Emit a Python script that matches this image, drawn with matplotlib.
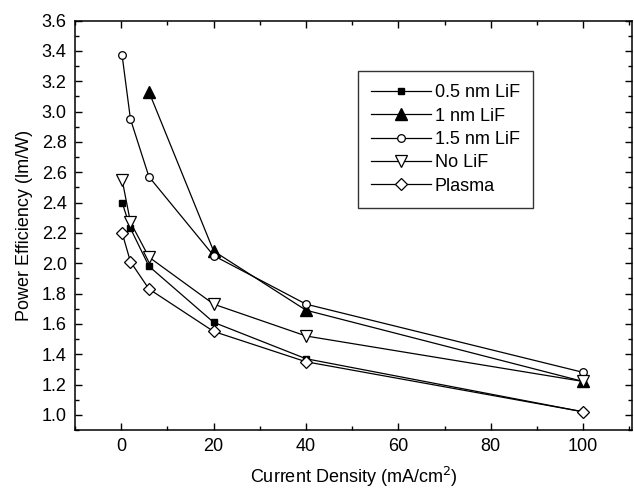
import matplotlib
matplotlib.use("Agg")
import matplotlib.pyplot as plt
from matplotlib.ticker import MultipleLocator

plt.rcParams['font.family'] = ['Liberation Sans', 'DejaVu Sans']

x_full = [0.2, 2, 6, 20, 40, 100]
x_1nm = [6, 20, 40, 100]
lif05 = [2.40, 2.23, 1.98, 1.61, 1.37, 1.02]
lif10 = [3.13, 2.08, 1.69, 1.22]
lif15 = [3.37, 2.95, 2.57, 2.05, 1.73, 1.28]
nolif = [2.55, 2.27, 2.04, 1.73, 1.52, 1.22]
plasma = [2.20, 2.01, 1.83, 1.55, 1.35, 1.02]

fig = plt.figure(figsize=(6.34, 4.91), dpi=100)
ax = fig.add_axes([0.1183, 0.1242, 0.8781, 0.834])

kw = dict(color='black', lw=0.9)
ax.plot(x_full, lif05, marker='s', ms=5, mfc='black', mec='black', label='0.5 nm LiF', **kw)
ax.plot(x_1nm, lif10, marker='^', ms=8, mfc='black', mec='black', label='1 nm LiF', **kw)
ax.plot(x_full, lif15, marker='o', ms=5.5, mfc='white', mec='black', mew=0.9, label='1.5 nm LiF', **kw)
ax.plot(x_full, nolif, marker='v', ms=8, mfc='white', mec='black', mew=0.9, label='No LiF', **kw)
ax.plot(x_full, plasma, marker='D', ms=6, mfc='white', mec='black', mew=0.9, label='Plasma', **kw)

fs = 13
ax.set_xlim(-10, 110.5)
ax.set_ylim(0.9, 3.6)
ax.xaxis.set_minor_locator(MultipleLocator(10))
ax.yaxis.set_minor_locator(MultipleLocator(0.1))
ax.set_xticks([0, 20, 40, 60, 80, 100])
ax.set_yticks([1.0 + 0.2 * i for i in range(14)])
ax.set_yticklabels([f"{1.0 + 0.2 * i:.1f}" for i in range(14)])
ax.tick_params(which='both', direction='in', top=True, right=True, labelsize=fs, width=1)
ax.tick_params(which='major', length=5, pad=6)
ax.tick_params(which='minor', length=3)
for s in ax.spines.values():
    s.set_linewidth(1.1)

ax.set_xlabel('Current Density (mA/cm$^2$)', fontsize=fs, labelpad=7)
ax.set_ylabel('Power Efficiency (lm/W)', fontsize=fs, labelpad=6)

leg = ax.legend(loc='upper left', bbox_to_anchor=(0.508, 0.877), fontsize=fs,
                handlelength=3.3, frameon=True, fancybox=False, edgecolor='black',
                borderpad=0.75, labelspacing=0.35, handletextpad=0.2, borderaxespad=0)
leg.get_frame().set_linewidth(1)

fig.savefig('out.png', dpi=100)
